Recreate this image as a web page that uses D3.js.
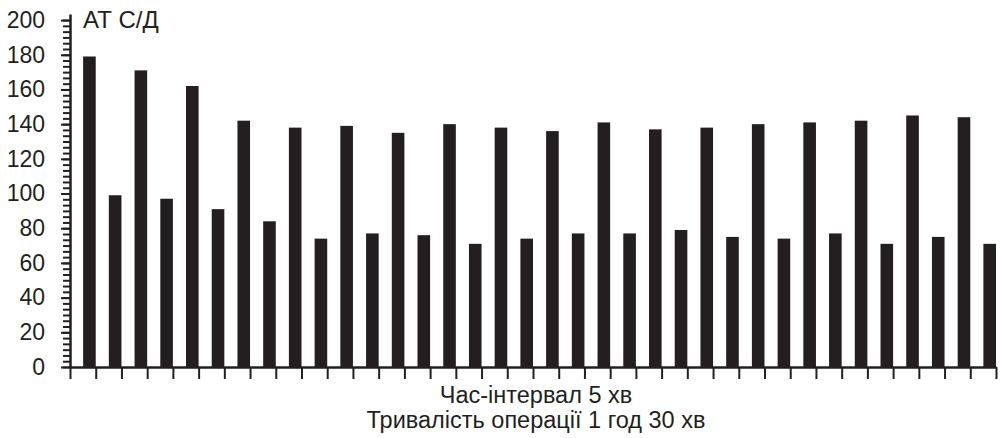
<!DOCTYPE html>
<html>
<head>
<meta charset="utf-8">
<script src="https://cdn.jsdelivr.net/npm/d3@7/dist/d3.min.js"></script>
<style>
  html, body { margin: 0; padding: 0; background: #fff; }
  svg { display: block; }
  text { font-family: "Liberation Sans", Arial, sans-serif; fill: #231f20; }
</style>
</head>
<body>
<svg id="chart" width="1000" height="438"></svg>
<script>
// Data: alternating systolic / diastolic blood pressure (АТ С/Д), 5-minute intervals
const intervals = d3.range(1, 37);
const pressureValues = [179, 99, 171, 97, 162, 91, 142, 84, 138, 74, 139, 77, 135, 76, 140, 71, 138, 74,
                        136, 77, 141, 77, 137, 79, 138, 75, 140, 74, 141, 77, 142, 71, 145, 75, 144, 71];
const yTickValues = [0, 20, 40, 60, 80, 100, 120, 140, 160, 180, 200];
const yAxisTitle = "АТ С/Д";
const xTitleLines = ["Час-інтервал 5 хв", "Тривалість операції 1 год 30 хв"];

const ink = "#231f20";
const svg = d3.select("#chart");

const mLeft = 70, mRight = 996, mBottom = 367, mTop = 14;

const x = d3.scaleBand().domain(intervals).range([mLeft, mRight]).paddingInner(0).paddingOuter(0);
const xEdges = d3.scaleLinear().domain([0, intervals.length]).range([mLeft, mRight]);
const y = d3.scaleLinear().domain([0, 203.5]).range([mBottom, mTop]);

// Bars (right part of each interval band)
svg.append("g").selectAll("rect")
  .data(pressureValues)
  .join("rect")
  .attr("x", (d, i) => x(intervals[i]) + x.bandwidth() * 0.51)
  .attr("width", x.bandwidth() * 0.49)
  .attr("y", d => y(d))
  .attr("height", d => y(0) - y(d))
  .attr("fill", ink);

// Y minor ticks
const minorTicks = d3.range(0, 200.01, 20 / 6);
const yMinor = svg.append("g").attr("transform", `translate(${mLeft},0)`)
  .call(d3.axisLeft(y).tickValues(minorTicks).tickSize(7).tickFormat(""));
yMinor.select(".domain").remove();
yMinor.selectAll("line").attr("stroke", ink).attr("stroke-width", 2);

// Y major axis
const yAxis = svg.append("g").attr("transform", `translate(${mLeft},0)`)
  .call(d3.axisLeft(y).tickValues(yTickValues).tickSize(9).tickPadding(16).tickSizeOuter(0));
yAxis.select(".domain").attr("stroke", ink).attr("stroke-width", 2.5);
yAxis.selectAll("line").attr("stroke", ink).attr("stroke-width", 2);
yAxis.selectAll("text").attr("font-size", 23).attr("fill", ink)
  .attr("font-family", "'Liberation Sans', Arial, sans-serif");

// X axis (ticks at interval boundaries)
const xAxis = svg.append("g").attr("transform", `translate(0,${mBottom})`)
  .call(d3.axisBottom(xEdges).tickValues(d3.range(0, intervals.length + 1)).tickSize(12).tickSizeOuter(0).tickFormat(""));
xAxis.select(".domain").attr("stroke", ink).attr("stroke-width", 2.5);
xAxis.selectAll("line").attr("stroke", ink).attr("stroke-width", 2);

// Titles
svg.append("text").attr("x", 83).attr("y", 28).attr("font-size", 24).text(yAxisTitle);

svg.selectAll(".xt").data(xTitleLines).join("text")
  .attr("class", "xt")
  .attr("x", (mLeft + mRight) / 2 + 3)
  .attr("y", (d, i) => 403 + i * 25)
  .attr("text-anchor", "middle")
  .attr("font-size", 23.5)
  .text(d => d);
</script>
</body>
</html>
